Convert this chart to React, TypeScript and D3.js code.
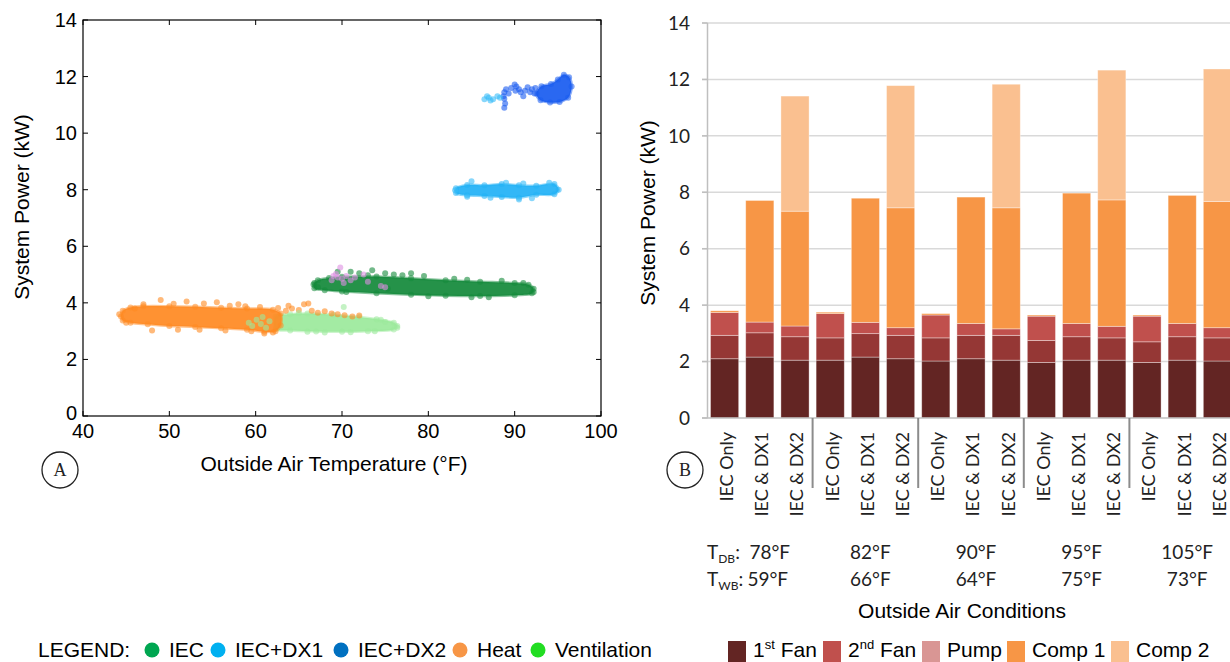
import React from 'react';
import * as d3 from 'd3';

type Pt = [number, number];

// ---------- Panel A data ----------
const xTicksA = [40, 50, 60, 70, 80, 90, 100];
const yTicksA = [0, 2, 4, 6, 8, 10, 12, 14];

// cluster outlines (°F, kW)
const heatOutline: Pt[] = [
  [44.4, 3.52], [44.6, 3.72], [45.5, 3.84], [47, 3.88], [50, 3.88], [53, 3.86], [56, 3.83], [59, 3.8], [62, 3.76], [62.9, 3.62],
  [62.9, 3.2], [62.3, 3.0], [61, 2.98], [59, 3.05], [56, 3.1], [53, 3.15], [50, 3.18], [47.5, 3.24], [45.5, 3.3], [44.6, 3.38],
];
const ventOutline: Pt[] = [
  [62.3, 3.52], [64, 3.6], [66, 3.62], [69, 3.58], [72, 3.5], [74.5, 3.4], [76, 3.3], [76.4, 3.18],
  [76, 3.06], [73, 3.0], [70, 2.98], [67, 2.99], [64, 3.02], [62.3, 3.08],
];
const iecOutline: Pt[] = [
  [66.7, 4.65], [67.2, 4.8], [68.5, 4.88], [70, 4.92], [74, 4.93], [78, 4.87], [82, 4.8], [86, 4.75], [90, 4.7], [91.6, 4.64], [92.2, 4.5],
  [92, 4.34], [90, 4.27], [86, 4.24], [82, 4.25], [78, 4.29], [74, 4.34], [70, 4.4], [68, 4.45], [66.8, 4.52],
];
const dx1Outline: Pt[] = [
  [83.2, 8.05], [84.5, 8.17], [86.5, 8.16], [88.5, 8.2], [90.5, 8.16], [92.5, 8.14], [94.6, 8.2], [95.1, 8.0],
  [94.6, 7.84], [92.5, 7.82], [90.5, 7.72], [88.5, 7.74], [86.5, 7.78], [84.5, 7.8], [83.2, 7.88],
];
const dx2Outline: Pt[] = [
  [92.5, 11.4], [93.1, 11.66], [94.2, 11.74], [95, 11.9], [95.7, 12.06], [96.3, 11.98], [96.6, 11.65],
  [96.2, 11.25], [95.2, 11.1], [94.1, 11.08], [93, 11.16],
];

// individual points around the clouds
const heatPoints: Pt[] = [
  [63.5, 3.72], [64.2, 3.8], [65, 3.75], [65.6, 3.95], [66.1, 3.98], [66.5, 3.72], [67.2, 3.65], [68, 3.7], [68.8, 3.62],
  [69.5, 3.6], [70.3, 3.56], [71.2, 3.52], [72, 3.55], [63.8, 3.9], [49, 4.1], [52, 4.05], [54, 3.98], [55.5, 4.02],
  [58, 3.95], [48, 3.02], [51, 3.05], [61, 2.92], [59.5, 3.0], [46, 3.8], [57, 3.9], [60.5, 3.85], [62, 2.95],
  [45, 3.3], [47, 3.95], [53.5, 3.05], [56.5, 3.02], [44.2, 3.6], [50.5, 3.97], [58.8, 3.88], [62.6, 3.82],
];
const ventPoints: Pt[] = [
  [59.2, 3.3], [59.6, 3.18], [60.1, 3.4], [60.6, 3.25], [61.2, 3.12], [61.6, 3.35], [60.8, 3.5], [70.2, 3.85],
  [75, 3.32], [76.4, 3.12], [73.8, 3.0], [66, 2.98], [68, 2.95], [71, 2.96], [74, 3.42], [65, 3.64],
];
const iecPoints: Pt[] = [
  [71, 5.1], [72, 5.05], [73.5, 5.15], [75, 5.05], [76, 5.0], [77, 4.98], [78, 5.05], [79.5, 4.95], [69.5, 5.1],
  [92.2, 4.38], [67.2, 4.55], [74.5, 4.58], [75.3, 4.5], [85, 4.2], [88.5, 4.78], [66.8, 4.7], [80, 4.23],
  [83, 4.85], [87, 4.2], [91, 4.7], [70.5, 4.38], [73, 4.98], [84.5, 4.82],
];
const pinkPoints: Pt[] = [
  [68.8, 4.8], [69, 4.95], [69.5, 4.9], [70, 4.85], [70.5, 4.95], [69.8, 5.25], [71, 4.8], [72.5, 5.0], [73, 4.75],
  [74.5, 4.6], [75, 4.55], [70.2, 4.7], [69.3, 5.02], [71.5, 4.9],
];
const dx1Points: Pt[] = [
  [85, 8.3], [84.5, 7.75], [90.5, 7.65], [92, 7.7], [94, 8.25], [83.1, 7.98], [86.5, 11.2], [87, 11.25],
  [87.5, 11.2], [88, 11.3], [88.3, 11.25], [87.2, 11.15], [86.8, 11.3], [89, 8.25], [87.2, 7.72], [91, 8.22],
];
const dx2Points: Pt[] = [
  [88.7, 11.3], [88.8, 11.45], [89, 11.55], [88.8, 11.22], [90.2, 11.65], [90.5, 11.55], [90.7, 11.45],
  [91.2, 11.5], [91.5, 11.62], [91.8, 11.45], [92, 11.55], [89.6, 11.6], [90, 11.72], [88.9, 11.05],
  [88.8, 10.9], [92.3, 11.4], [91, 11.3], [89.3, 11.4], [90.1, 11.5], [92.4, 11.6],
];

// ---------- Panel B data ----------
const barCategories = [
  'IEC Only', 'IEC & DX1', 'IEC & DX2',
  'IEC Only', 'IEC & DX1', 'IEC & DX2',
  'IEC Only', 'IEC & DX1', 'IEC & DX2',
  'IEC Only', 'IEC & DX1', 'IEC & DX2',
  'IEC Only', 'IEC & DX1', 'IEC & DX2',
];
const fan1 = [2.10, 2.16, 2.05, 2.05, 2.16, 2.10, 2.02, 2.10, 2.05, 1.97, 2.05, 2.05, 1.97, 2.05, 2.02];
const fan2 = [0.83, 0.86, 0.83, 0.79, 0.83, 0.83, 0.82, 0.83, 0.88, 0.78, 0.83, 0.79, 0.73, 0.83, 0.82];
const pump = [0.81, 0.38, 0.38, 0.86, 0.40, 0.27, 0.81, 0.42, 0.23, 0.86, 0.47, 0.41, 0.91, 0.47, 0.36];
const comp1 = [0.06, 4.31, 4.07, 0.05, 4.40, 4.25, 0.05, 4.48, 4.29, 0.04, 4.62, 4.48, 0.04, 4.54, 4.47];
const comp2 = [0, 0, 4.08, 0, 0, 4.33, 0, 0, 4.38, 0, 0, 4.60, 0, 0, 4.70];
const yTicksB = [0, 2, 4, 6, 8, 10, 12, 14];
const dryBulb = ['78°F', '82°F', '90°F', '95°F', '105°F'];
const wetBulb = ['59°F', '66°F', '64°F', '75°F', '73°F'];

const legendA = ['IEC', 'IEC+DX1', 'IEC+DX2', 'Heat', 'Ventilation'];
const legendAColors = ['#00A651', '#00B0F0', '#0070C0', '#F79646', '#22DD22'];
const legendB = [['1', 'st', ' Fan'], ['2', 'nd', ' Fan'], ['Pump', '', ''], ['Comp 1', '', ''], ['Comp 2', '', '']];
const legendBColors = ['#632523', '#C0504D', '#D99694', '#F79646', '#FAC090'];
const barColors = ['#632523', '#953735', '#C0504D', '#F79646', '#FAC090'];

const SANS = "'Liberation Sans', Arial, Helvetica, sans-serif";
const CAL = "Lato, 'Open Sans', sans-serif";

export default function App() {
  // Panel A scales
  const xA = d3.scaleLinear().domain([40, 100]).range([83, 601]);
  const yA = d3.scaleLinear().domain([0, 14]).range([416, 20]);
  const blob = d3.line<Pt>().x(d => xA(d[0])).y(d => yA(d[1])).curve(d3.curveCatmullRomClosed.alpha(0.5));

  const clusters: { outline: Pt[] | null; pts: Pt[]; color: string }[] = [
    { outline: ventOutline, pts: [], color: '#9CE99C' },
    { outline: heatOutline, pts: heatPoints, color: '#FF8A22' },
    { outline: null, pts: ventPoints, color: '#9CE99C' },
    { outline: iecOutline, pts: iecPoints, color: '#148A3B' },
    { outline: null, pts: pinkPoints, color: '#DD8FE2' },
    { outline: dx1Outline, pts: [], color: '#22B2F6' },
    { outline: dx2Outline, pts: dx2Points, color: '#1A5CF0' },
    { outline: null, pts: dx1Points, color: '#38BDF8' },
  ];

  // Panel B scales
  const idx = barCategories.map((_, i) => String(i));
  const xB = d3.scaleBand<string>().domain(idx).range([707, 1235]).paddingInner(0.2).paddingOuter(0.1);
  const yB = d3.scaleLinear().domain([0, 14]).range([418, 23]);
  const stackData = barCategories.map((_, i) => ({ i: String(i), fan1: fan1[i], fan2: fan2[i], pump: pump[i], comp1: comp1[i], comp2: comp2[i] }));
  const series = d3.stack<any>().keys(['fan1', 'fan2', 'pump', 'comp1', 'comp2'])(stackData);
  const bw = xB.bandwidth();
  const step = xB.step();

  return (
    <svg width={1230} height={662} style={{ position: 'absolute', left: 0, top: 0, background: '#fff' }}>
      {/* ---------------- Panel A ---------------- */}
      <g>
        <defs>
          <clipPath id="clipA">
            <rect x={83} y={20} width={518} height={396} />
          </clipPath>
        </defs>
        <g clipPath="url(#clipA)">
          {clusters.map((c, ci) => (
            <g key={ci}>
              {c.outline && <path d={blob(c.outline) || ''} fill={c.color} fillOpacity={0.93} stroke={c.color} strokeOpacity={0.5} strokeWidth={2.5} />}
              {c.outline && c.outline.map((p, k) => (
                <circle key={'o' + k} cx={xA(p[0])} cy={yA(p[1])} r={3} fill={c.color} fillOpacity={0.55} />
              ))}
              {c.pts.map((p, k) => (
                <circle key={'p' + k} cx={xA(p[0])} cy={yA(p[1])} r={3} fill={c.color} fillOpacity={0.6} />
              ))}
            </g>
          ))}
        </g>
        <rect x={83} y={20} width={518} height={396} fill="none" stroke="#000" strokeWidth={1.2} />
        {xTicksA.map(t => (
          <g key={'xa' + t}>
            <line x1={xA(t)} x2={xA(t)} y1={416} y2={411} stroke="#000" />
            <line x1={xA(t)} x2={xA(t)} y1={20} y2={25} stroke="#000" />
            <text x={xA(t)} y={438} textAnchor="middle" fontFamily={SANS} fontSize={20} fill="#000">{t}</text>
          </g>
        ))}
        {yTicksA.map(t => (
          <g key={'ya' + t}>
            <line x1={83} x2={88} y1={yA(t)} y2={yA(t)} stroke="#000" />
            <line x1={601} x2={596} y1={yA(t)} y2={yA(t)} stroke="#000" />
            <text x={77} y={yA(t) - (t === 0 ? 3 : 0)} dy="0.35em" textAnchor="end" fontFamily={SANS} fontSize={20} fill="#000">{t}</text>
          </g>
        ))}
        <text x={334} y={471} textAnchor="middle" fontFamily={SANS} fontSize={21} fill="#000">Outside Air Temperature (°F)</text>
        <text transform="translate(22,207) rotate(-90)" dy="0.35em" textAnchor="middle" fontFamily={SANS} fontSize={21} fill="#000">System Power (kW)</text>
        <circle cx={60} cy={470} r={18} fill="none" stroke="#222" strokeWidth={1.3} />
        <text x={60} y={476} textAnchor="middle" fontFamily="'Liberation Serif', 'DejaVu Serif', serif" fontSize={18} fill="#222">A</text>
      </g>

      {/* ---------------- Panel B ---------------- */}
      <g>
        {yTicksB.map(t => (
          <g key={'yb' + t}>
            {t > 0 && <line x1={702} x2={1230} y1={yB(t)} y2={yB(t)} stroke="#D9D9D9" strokeWidth={1.5} />}
            <line x1={702} x2={707.5} y1={yB(t)} y2={yB(t)} stroke="#BFBFBF" strokeWidth={1.5} />
            <text x={690} y={yB(t)} dy="0.35em" textAnchor="end" fontFamily={CAL} fontSize={19} fill="#222">{t}</text>
          </g>
        ))}
        <line x1={707.5} x2={707.5} y1={yB(14)} y2={yB(0)} stroke="#BFBFBF" strokeWidth={1.5} />
        {series.map((s, si) => (
          <g key={'s' + si}>
            {s.map((d, k) => (
              d[1] - d[0] > 0 ? (
                <rect key={k} x={xB(String(k))} width={bw} y={yB(d[1])} height={yB(d[0]) - yB(d[1])}
                  fill={barColors[si]} stroke="#fff" strokeOpacity={0.45} strokeWidth={0.8} />
              ) : null
            ))}
          </g>
        ))}
        <line x1={702} x2={1230} y1={yB(0)} y2={yB(0)} stroke="#BFBFBF" strokeWidth={1.5} />
        {[3, 6, 9, 12].map(k => {
          const sx = (xB(String(k)) || 0) - step * 0.1;
          return <line key={'sep' + k} x1={sx} x2={sx} y1={yB(0)} y2={488} stroke="#8C8C8C" strokeWidth={2} />;
        })}
        {barCategories.map((c, k) => {
          const cx = (xB(String(k)) || 0) + bw / 2 + 2;
          return (
            <text key={'lbl' + k} transform={`translate(${cx},432) rotate(-90)`} dy="0.35em" textAnchor="end"
              fontFamily={CAL} fontSize={18} fill="#222">{c}</text>
          );
        })}
        {/* outside air conditions */}
        <text x={707} y={559} fontFamily={CAL} fontSize={19} fill="#222">T<tspan fontSize={12} dy={4}>DB</tspan><tspan dy={-4}>:</tspan></text>
        <text x={707} y={586} fontFamily={CAL} fontSize={19} fill="#222">T<tspan fontSize={12} dy={4}>WB</tspan><tspan dy={-4}>:</tspan></text>
        {dryBulb.map((t, g) => {
          const mid = (xB(String(g * 3 + 1)) || 0) + bw / 2;
          const cx = g === 0 ? mid + 10 : mid + 5;
          return <text key={'db' + g} x={cx} y={559} textAnchor="middle" fontFamily={CAL} fontSize={19} fill="#222">{t}</text>;
        })}
        {wetBulb.map((t, g) => {
          const mid = (xB(String(g * 3 + 1)) || 0) + bw / 2;
          const cx = g === 0 ? mid + 8 : mid + 5;
          return <text key={'wb' + g} x={cx} y={586} textAnchor="middle" fontFamily={CAL} fontSize={19} fill="#222">{t}</text>;
        })}
        <text x={962} y={618} textAnchor="middle" fontFamily={SANS} fontSize={21} fill="#000">Outside Air Conditions</text>
        <text transform="translate(648,213) rotate(-90)" dy="0.35em" textAnchor="middle" fontFamily={SANS} fontSize={21} fill="#000">System Power (kW)</text>
        <circle cx={685} cy={470} r={18} fill="none" stroke="#222" strokeWidth={1.3} />
        <text x={685} y={476} textAnchor="middle" fontFamily="'Liberation Serif', 'DejaVu Serif', serif" fontSize={18} fill="#222">B</text>
      </g>

      {/* ---------------- Legends ---------------- */}
      <g fontFamily={SANS} fontSize={21} fill="#000">
        <text x={38} y={657}>LEGEND:</text>
        {legendA.map((l, i) => {
          const dotX = [152, 218, 341, 460, 538][i];
          return (
            <g key={'la' + i}>
              <ellipse cx={dotX} cy={650} rx={7.5} ry={7.5} fill={legendAColors[i]} />
              <text x={dotX + 17} y={657}>{l}</text>
            </g>
          );
        })}
        {legendB.map((l, i) => {
          const sx = [728, 823, 922, 1007, 1111][i];
          return (
            <g key={'lb' + i}>
              <rect x={sx} y={641} width={18} height={21} fill={legendBColors[i]} />
              <text x={sx + 25} y={657}>
                {l[0]}
                {l[1] && <tspan fontSize={13} dy={-8}>{l[1]}</tspan>}
                {l[2] && <tspan dy={l[1] ? 8 : 0}>{l[2]}</tspan>}
              </text>
            </g>
          );
        })}
      </g>
    </svg>
  );
}
